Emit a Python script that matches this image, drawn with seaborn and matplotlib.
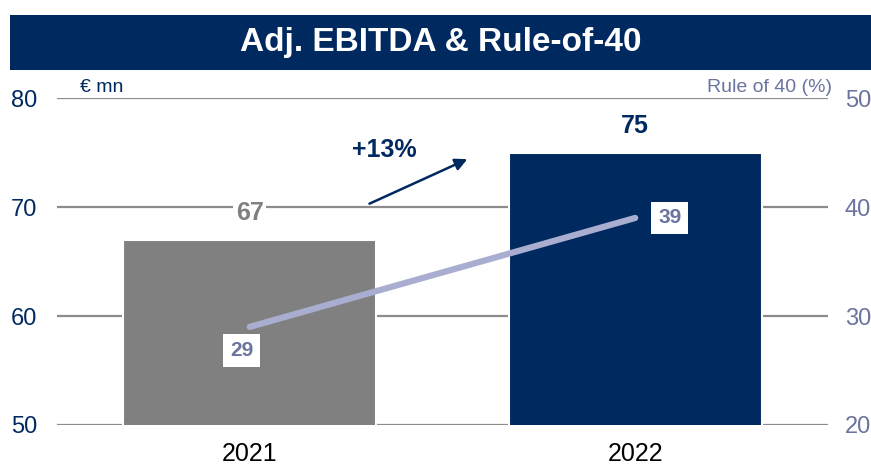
import numpy as np
import pandas as pd
import matplotlib.pyplot as plt
import seaborn as sns
from matplotlib.patches import Rectangle

years = ["2021", "2022"]
ebitda = [67, 75]
rule40 = [29, 39]
growth_label = "+13%"

navy = "#002960"
grey = "#808080"
line_col = "#A9AED0"
right_col = "#6B739F"
grid_col = "#8C8C8C"

sns.set_theme(style="white")
plt.rcParams['font.family'] = ['Liberation Sans', 'DejaVu Sans']

df = pd.DataFrame({"year": years, "ebitda": ebitda, "rule40": rule40})

fig = plt.figure(figsize=(8.71, 4.67), dpi=100)
ax = fig.add_axes([0.0654, 0.09, 0.8852, 0.70])

# title banner
fig.patches.append(Rectangle((0.0115, 0.850), 0.9885, 0.118, transform=fig.transFigure,
                             facecolor=navy, edgecolor="none", zorder=0))
fig.text(0.506, 0.908, "Adj. EBITDA & Rule-of-40", color="white", fontsize=24,
         fontweight="bold", ha="center", va="center")

sns.barplot(data=df, x="year", y="ebitda", hue="year", palette=[grey, navy], saturation=1,
            width=0.656, edgecolor="white", linewidth=1.5, legend=False, ax=ax, zorder=2)
ax.set_ylim(50, 80)
ax.set_xlim(-0.5, 1.5)
ax.set_yticks([50, 60, 70, 80])
ax.yaxis.grid(True, color=grid_col, linewidth=1.6)
ax.set_axisbelow(True)
for s in ax.spines.values():
    s.set_visible(False)
ax.tick_params(axis="y", length=0, pad=14, labelsize=17, labelcolor=navy)
ax.tick_params(axis="x", length=0, pad=12, labelsize=18, labelcolor="black")
ax.set_xlabel("")
ax.set_ylabel("")

# value labels on bars
for i, v in enumerate(ebitda):
    c = grey if i == 0 else navy
    ax.annotate(str(v), (i, v), xytext=(0, 19), textcoords="offset points",
                ha="center", va="center", fontsize=18, fontweight="bold", color=c,
                bbox=dict(facecolor="white", edgecolor="none", pad=2), zorder=3)

# growth arrow
ax.annotate("", xy=(0.571, 74.5), xytext=(0.304, 70.2),
            arrowprops=dict(arrowstyle="-|>", color=navy, lw=1.8, mutation_scale=18), zorder=4)
ax.text(0.35, 75.2, growth_label, ha="center", va="center", fontsize=18,
        fontweight="bold", color=navy)

ax.text(0.03, 1.005, "€ mn", transform=ax.transAxes, ha="left", va="bottom",
        fontsize=14, color=navy)

# secondary axis: Rule of 40
ax2 = ax.twinx()
ax2.set_position(ax.get_position())
sns.lineplot(x=np.arange(len(years)), y=rule40, ax=ax2, color=line_col, linewidth=4.5,
             solid_capstyle="round")
ax2.set_ylim(20, 50)
ax2.set_xlim(-0.5, 1.5)
ax2.set_yticks([20, 30, 40, 50])
for s in ax2.spines.values():
    s.set_visible(False)
ax2.tick_params(axis="y", length=0, pad=12, labelsize=17, labelcolor=right_col)
ax2.grid(False)
ax2.text(1.005, 1.005, "Rule of 40 (%)", transform=ax2.transAxes, ha="right", va="bottom",
         fontsize=14, color=right_col)

offsets = [(-6, -17), (25, 0)]
for i, v in enumerate(rule40):
    ax2.annotate(str(v), (i, v), xytext=offsets[i], textcoords="offset points",
                 ha="center", va="center", fontsize=15, fontweight="bold", color=right_col,
                 bbox=dict(facecolor="white", edgecolor="none", pad=5))

fig.savefig("out.png", dpi=100)
